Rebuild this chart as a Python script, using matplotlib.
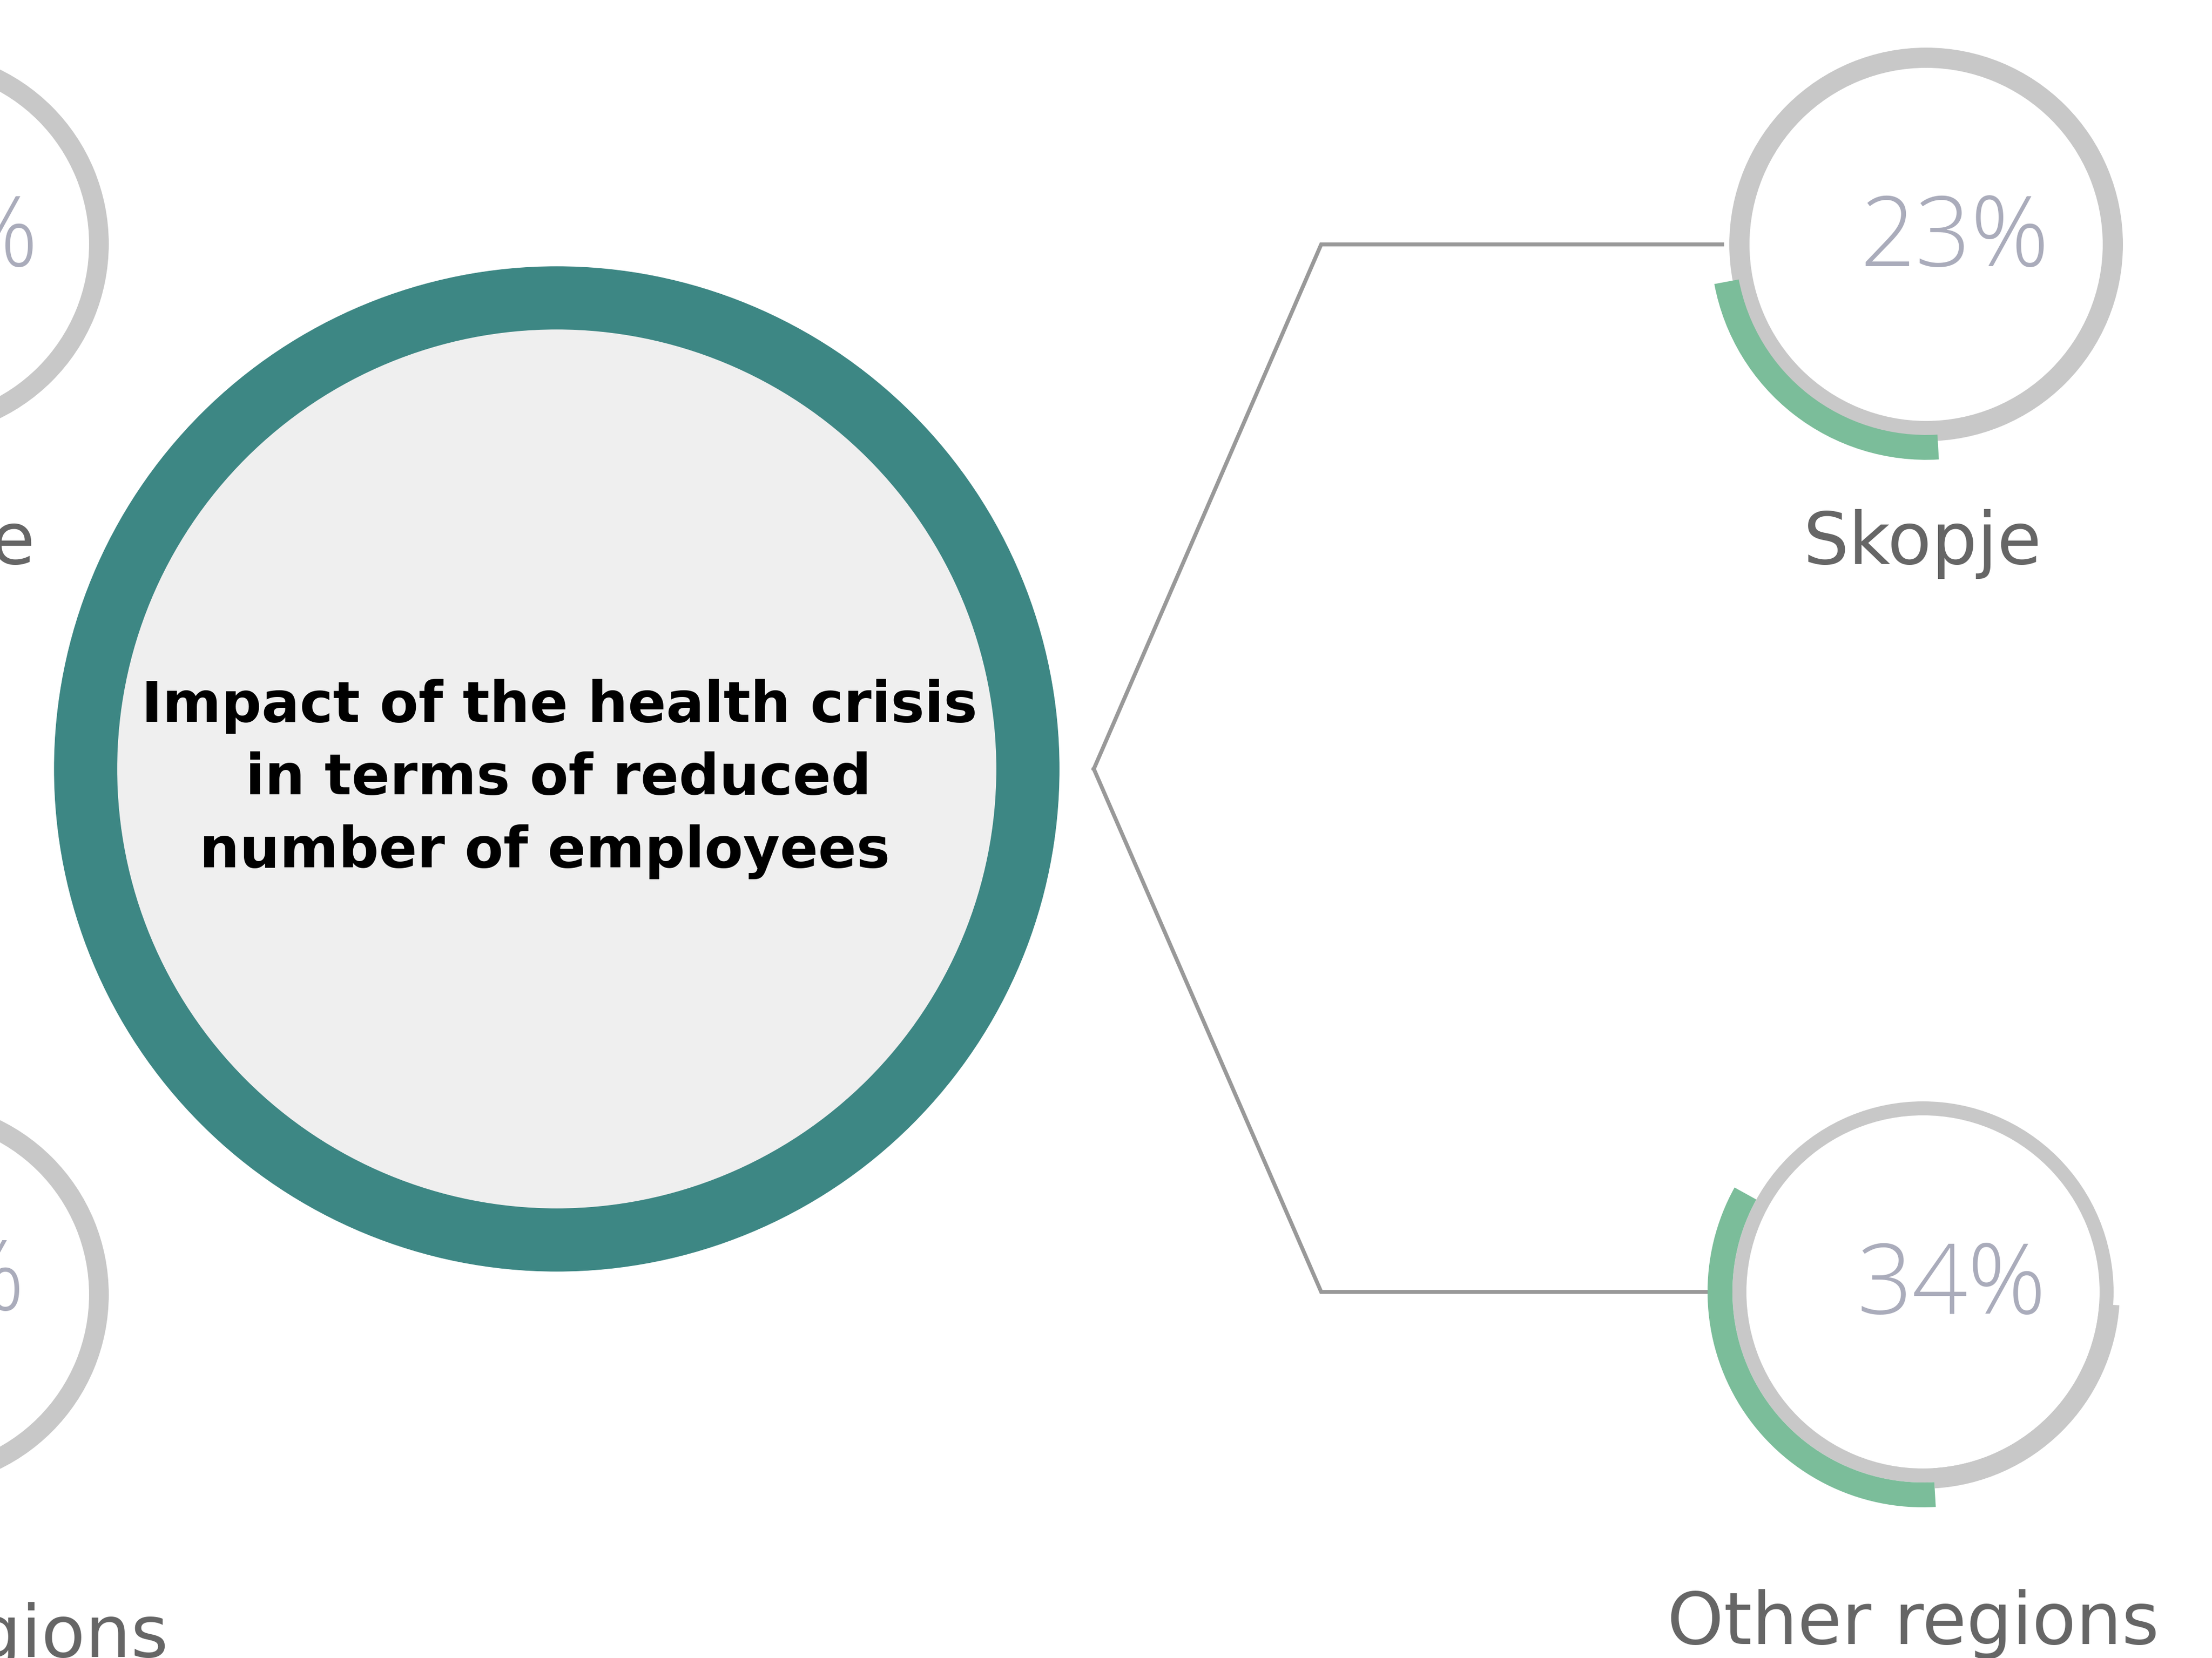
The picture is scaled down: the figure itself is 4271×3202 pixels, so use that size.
import matplotlib
matplotlib.use("Agg")
import matplotlib.pyplot as plt
from matplotlib.patches import Wedge, Circle

# ── data ──────────────────────────────────────────────────────────────────────
TITLE_LINES = ["Impact of the health crisis",
               "in terms of reduced",
               "number of employees"]
REGIONS = ["Skopje", "Other regions"]
SHARES = [23, 34]            # % of firms with reduced number of employees

# ── style ─────────────────────────────────────────────────────────────────────
W, H = 4271, 3202
TEAL = "#3D8784"
FILL = "#EFEFEF"
GREY = "#C8C8C8"
GREEN = "#7BBD9A"
LINE = "#999999"
PCT_COL = "#AAACBB"
LAB_COL = "#666666"
PCT_FONT = dict(family="Open Sans", fontweight="light", fontsize=135,
                color=PCT_COL)
LAB_FONT = dict(family="DejaVu Sans", fontsize=100, color=LAB_COL)

fig = plt.figure(figsize=(W / 100, H / 100), dpi=100)
ax = fig.add_axes([0, 0, 1, 1])
ax.set_xlim(0, W)
ax.set_ylim(0, H)
ax.set_aspect("equal")
ax.axis("off")


def Y(y):
    return H - y


# main circle
MAIN_C = (1075, 1485)
ax.add_patch(Circle((MAIN_C[0], Y(MAIN_C[1])), 970, color=TEAL, zorder=1))
ax.add_patch(Circle((MAIN_C[0], Y(MAIN_C[1])), 848, color=FILL, zorder=2))
for ln, xc, yb in zip(TITLE_LINES, [1080, 1078, 1052], [1394, 1534, 1675]):
    ax.text(xc, Y(yb), ln, ha="center", va="baseline", fontsize=78.5,
            fontweight="bold", color="black", family="DejaVu Sans", zorder=3)

# connector lines
apex = (2112, 1485)
centres = [(3719, 472), (3713, 2495)]
line_ends = [3325, 3296]
for (cx, cy), xe in zip(centres, line_ends):
    ax.plot([apex[0], 2551, xe], [Y(apex[1]), Y(cy), Y(cy)], color=LINE,
            lw=5.5, solid_joinstyle="miter", zorder=1)

# region donuts
END_ANG = 273.4
ring = [(341, 380), (341, 368)]
label_pos = [(3712, 1089), (3694, 3175)]
for k, (reg, share) in enumerate(zip(REGIONS, SHARES)):
    cx, cy = centres[k]
    r_in, r_out = ring[k]
    ax.add_patch(Wedge((cx, Y(cy)), r_out, 0, 360, width=r_out - r_in,
                       color=GREY, lw=0, zorder=2))
    if k == 1:
        # slightly thicker grey segment visible in bottom-right quadrant
        ax.add_patch(Wedge((cx, Y(cy)), 380, END_ANG, END_ANG + 82.7,
                           width=380 - r_in, color=GREY, lw=0, zorder=2))
    span = 360 * share / 100
    ax.add_patch(Wedge((cx, Y(cy)), 416, END_ANG - span, END_ANG, width=48,
                       color=GREEN, lw=0, zorder=3))
    ax.text(cx + 55, Y(cy + 42), f"{share}%", ha="center", va="baseline",
            zorder=4, **PCT_FONT)
    lx, ly = label_pos[k]
    ax.text(lx, Y(ly), reg, ha="center", va="baseline", zorder=4, **LAB_FONT)

# cropped neighbouring panel on the left edge
left_c = [(-165, 471), (-165, 2500)]
for cx, cy in left_c:
    ax.add_patch(Wedge((cx, Y(cy)), 375, 0, 360, width=38, color=GREY, lw=0,
                       zorder=2))
ax.text(73, Y(514), "%", ha="right", va="baseline", zorder=4, **PCT_FONT)
ax.text(47, Y(2530), "%", ha="right", va="baseline", zorder=4, **PCT_FONT)
ax.text(-162, Y(1089), REGIONS[0], ha="center", va="baseline", zorder=4,
        **LAB_FONT)
ax.text(-150, Y(3200), REGIONS[1], ha="center", va="baseline", zorder=4,
        **LAB_FONT)

fig.savefig("out.png", dpi=100, facecolor="white")
